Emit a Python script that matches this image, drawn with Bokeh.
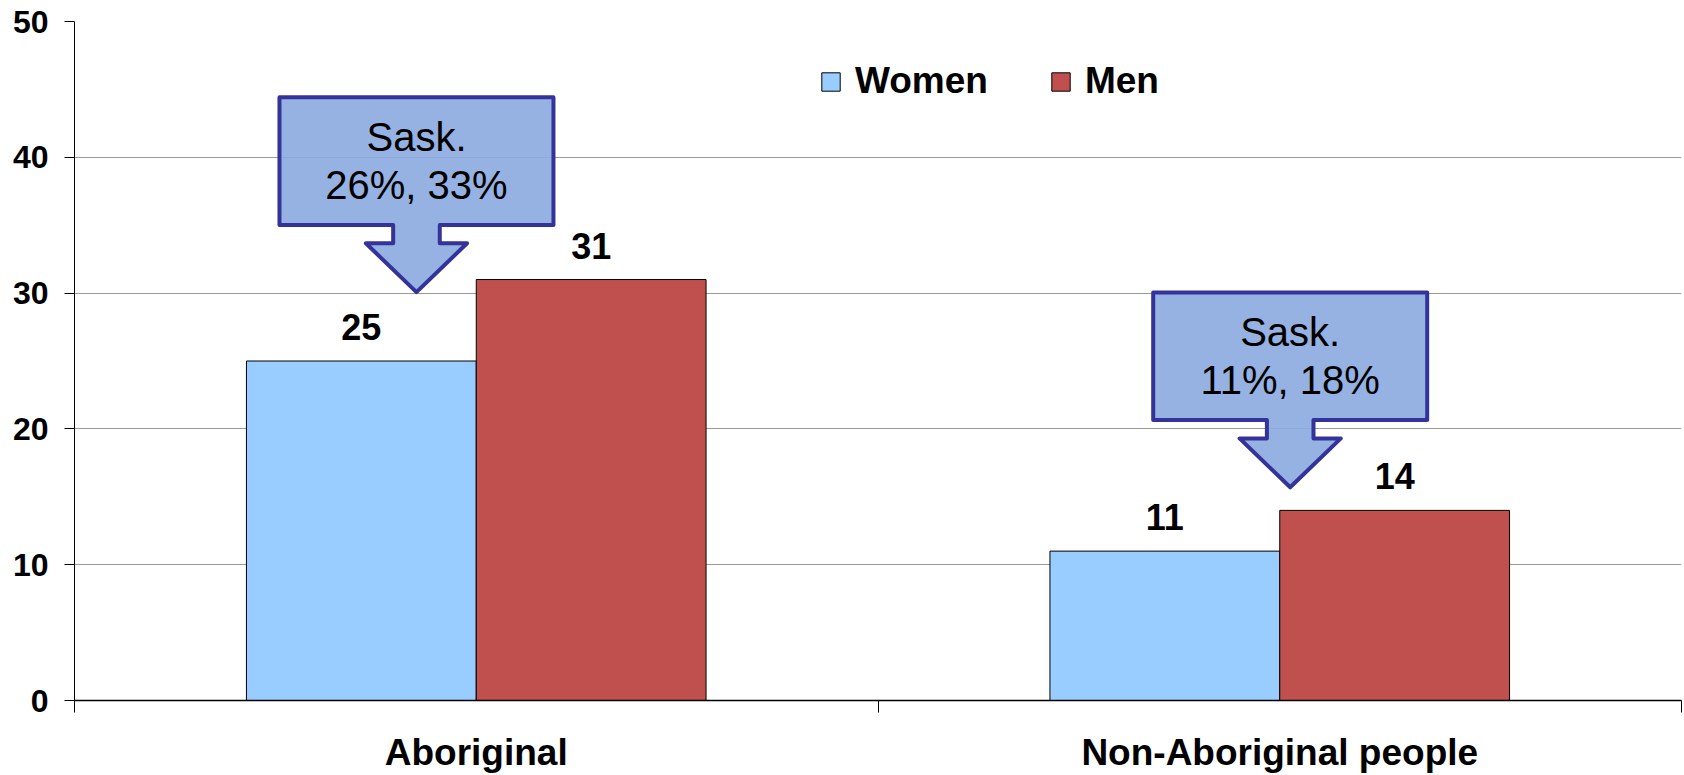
from bokeh.plotting import figure
from bokeh.models import ColumnDataSource, FixedTicker, Range1d, Legend, LegendItem
from bokeh.core.properties import value
from bokeh.embed import file_html
from bokeh.resources import INLINE

# ---- data ----
categories = ["Aboriginal", "Non-Aboriginal people"]
series_names = ["Women", "Men"]
women = [25, 11]
men = [31, 14]
sask_women = [26, 11]
sask_men = [33, 18]
y_ticks = [0, 10, 20, 30, 40, 50]

# callout anchor (arrow tip) per category, in data units
callout_tip_x = [0.4256, 1.513]
callout_tip_y = [30.07, 15.7]

FONT = "Liberation Sans"
WOMEN_COLOR = "#99CCFF"
MEN_COLOR = "#C0504D"

cat_centers = [i + 0.5 for i in range(len(categories))]
bar_w = 0.286
x_women = [c - bar_w / 2 for c in cat_centers]
x_men = [c + bar_w / 2 for c in cat_centers]

p = figure(width=1684, height=775, output_backend="svg", toolbar_location=None,
           x_range=Range1d(0, len(categories)), y_range=Range1d(0, 50),
           min_border_left=74, min_border_right=3, min_border_top=21, min_border_bottom=75)
p.outline_line_color = None
p.background_fill_color = "white"

src_w = ColumnDataSource(dict(x=x_women, top=women, lab=[str(v) for v in women]))
src_m = ColumnDataSource(dict(x=x_men, top=men, lab=[str(v) for v in men]))

r_w = p.vbar(x="x", top="top", bottom=0, width=bar_w, source=src_w,
             fill_color=WOMEN_COLOR, line_color="#000000", line_width=1)
r_m = p.vbar(x="x", top="top", bottom=0, width=bar_w, source=src_m,
             fill_color=MEN_COLOR, line_color="#000000", line_width=1)

for src in (src_w, src_m):
    p.text(x="x", y="top", text="lab", source=src, text_align="center",
           text_baseline="middle", y_offset=-34,
           text_font=value(FONT), text_font_size="36px", text_font_style="bold",
           text_color="black")

# callouts
def callout_shape(tx, ty):
    box_hw = 0.1705
    box_cx = tx
    ybot = ty + 4.95
    ytop = ybot + 9.4
    stem_hw = 0.029
    shoulder = ty + 3.6
    head_hw = 0.063
    xs = [box_cx - box_hw, box_cx + box_hw, box_cx + box_hw, tx + stem_hw, tx + stem_hw,
          tx + head_hw, tx, tx - head_hw, tx - stem_hw, tx - stem_hw, box_cx - box_hw]
    ys = [ytop, ytop, ybot, ybot, shoulder, shoulder, ty, shoulder, shoulder, ybot, ybot]
    return xs, ys, (ybot + ytop) / 2

pxs, pys, l1y, l2y, l1t, l2t, tcx = [], [], [], [], [], [], []
for tx, ty, sw, sm in zip(callout_tip_x, callout_tip_y, sask_women, sask_men):
    xs, ys, mid = callout_shape(tx, ty)
    pxs.append(xs)
    pys.append(ys)
    tcx.append(tx)
    l1y.append(mid + 1.75)
    l2y.append(mid - 1.75)
    l1t.append("Sask.")
    l2t.append(f"{sw}%, {sm}%")

p.patches(xs=pxs, ys=pys, fill_color="#89AAE0", fill_alpha=0.9,
          line_color="#333399", line_width=4, line_join="round")
p.text(x=tcx + tcx, y=l1y + l2y, text=l1t + l2t, text_align="center",
       text_baseline="middle", text_font=value(FONT), text_font_size="40px",
       text_color="black")

# axes
yax = p.yaxis[0]
yax.ticker = FixedTicker(ticks=y_ticks)
yax.axis_line_color = "black"
yax.axis_line_width = 1
yax.major_tick_out = 10
yax.major_tick_in = 0
yax.minor_tick_line_color = None
yax.major_tick_line_color = "black"
yax.major_label_standoff = 16
yax.major_label_text_font = FONT
yax.major_label_text_font_size = "32px"
yax.major_label_text_font_style = "bold"
yax.major_label_text_color = "black"

xax = p.xaxis[0]
xax.ticker = FixedTicker(ticks=cat_centers, minor_ticks=list(range(len(categories) + 1)))
xax.major_label_overrides = {c: n for c, n in zip(cat_centers, categories)}
xax.axis_line_color = "black"
xax.axis_line_width = 1.5
xax.major_tick_out = 0
xax.major_tick_in = 0
xax.major_tick_line_color = None
xax.minor_tick_out = 12
xax.minor_tick_in = 0
xax.minor_tick_line_color = "black"
xax.major_label_standoff = 19
xax.major_label_text_line_height = 1.0
xax.major_label_text_font = FONT
xax.major_label_text_font_size = "37px"
xax.major_label_text_font_style = "bold"
xax.major_label_text_color = "black"

p.xgrid.grid_line_color = None
p.ygrid.ticker = FixedTicker(ticks=y_ticks)
p.ygrid.grid_line_color = "#999999"
p.ygrid.grid_line_width = 1

legend = Legend(items=[LegendItem(label=series_names[0], renderers=[r_w]),
                       LegendItem(label=series_names[1], renderers=[r_m])],
                orientation="horizontal", location=(745, 598),
                glyph_width=23, glyph_height=23, label_standoff=13, spacing=61,
                padding=0, margin=0, border_line_color=None, background_fill_alpha=0,
                label_text_font=FONT, label_text_font_size="37px",
                label_text_font_style="bold", label_text_color="black", label_height=23)
p.add_layout(legend, "center")

open("out.html", "w").write(file_html(p, INLINE))
